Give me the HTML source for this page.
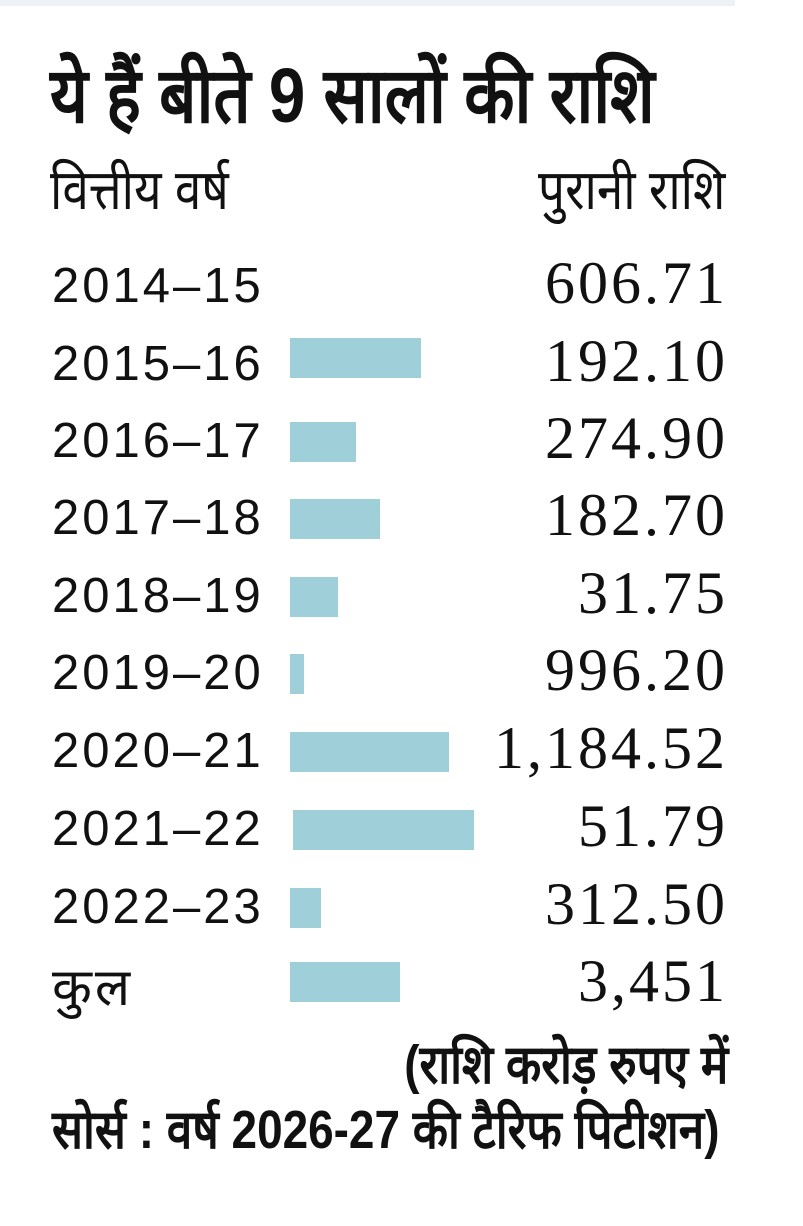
<!DOCTYPE html>
<html><head><meta charset="utf-8">
<style>
body{margin:0;width:803px;height:1226px;background:#fff;position:relative;overflow:hidden;font-family:"Liberation Sans",sans-serif;color:#111}
.strip{position:absolute;left:0;top:0;width:735px;height:6px;background:#eef1f5}
.t{position:absolute;white-space:nowrap}
.title{left:50px;top:40px;font-size:77px;font-weight:bold;transform:scaleX(0.85);transform-origin:left}
.h{top:150px;font-size:56px;transform:scaleX(0.85)}
.yr{left:52px;font-size:49px;letter-spacing:3px}
.val{right:75px;font-family:"Liberation Serif",serif;font-size:60px;letter-spacing:3px;text-align:right}
.bar{position:absolute;left:290px;height:40px;background:#9fd0da}
.f{font-size:54px;font-weight:bold;transform:scaleX(0.85)}
</style></head><body>
<div class="strip"></div>
<div class="t title">ये हैं बीते 9 सालों की  राशि</div>
<div class="t h" style="left:50px;transform-origin:left">वित्तीय वर्ष</div>
<div class="t h" style="right:78px;transform-origin:right">पुरानी राशि</div>

<div class="t yr" style="top:258px">2014–15</div><div class="t val" style="top:249px">606.71</div>
<div class="t yr" style="top:336px">2015–16</div><div class="bar" style="top:338px;width:131px"></div><div class="t val" style="top:327px">192.10</div>
<div class="t yr" style="top:413px">2016–17</div><div class="bar" style="top:422px;width:66px"></div><div class="t val" style="top:404px">274.90</div>
<div class="t yr" style="top:490px">2017–18</div><div class="bar" style="top:499px;width:90px"></div><div class="t val" style="top:481px">182.70</div>
<div class="t yr" style="top:568px">2018–19</div><div class="bar" style="top:577px;width:48px"></div><div class="t val" style="top:559px">31.75</div>
<div class="t yr" style="top:645px">2019–20</div><div class="bar" style="top:654px;width:14px"></div><div class="t val" style="top:636px">996.20</div>
<div class="t yr" style="top:723px">2020–21</div><div class="bar" style="top:732px;width:159px"></div><div class="t val" style="top:714px">1,184.52</div>
<div class="t yr" style="top:801px">2021–22</div><div class="bar" style="top:810px;left:293px;width:181px"></div><div class="t val" style="top:792px">51.79</div>
<div class="t yr" style="top:879px">2022–23</div><div class="bar" style="top:888px;width:31px"></div><div class="t val" style="top:870px">312.50</div>
<div class="t yr" style="top:950px;font-size:52px">कुल</div><div class="bar" style="top:962px;width:110px"></div><div class="t val" style="top:947px">3,451</div>

<div class="t f" style="right:75px;top:1025px;transform-origin:right">(राशि करोड़ रुपए में</div>
<div class="t f" style="left:52px;top:1090px;transform-origin:left">सोर्स : वर्ष 2026-27 की टैरिफ पिटीशन)</div>
</body></html>
